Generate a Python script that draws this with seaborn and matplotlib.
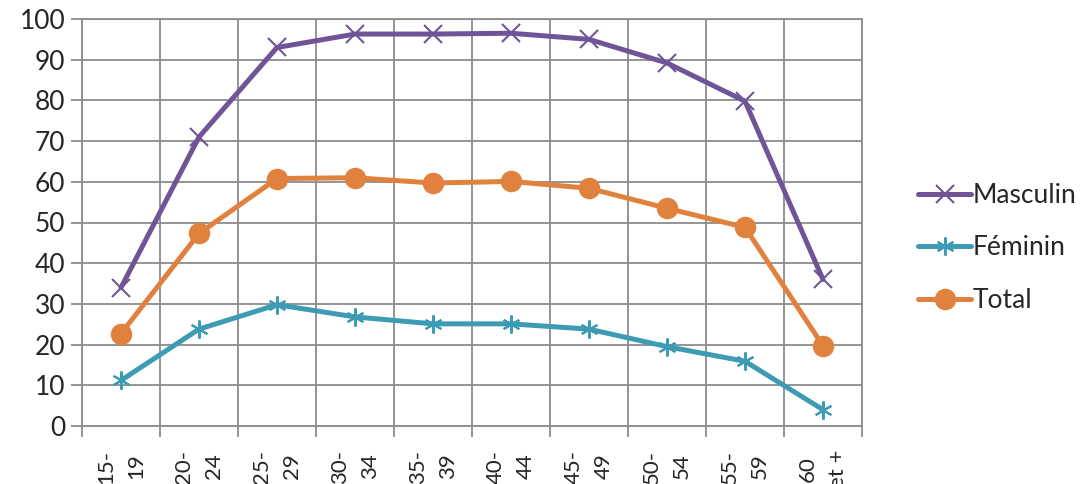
import numpy as np
import pandas as pd
import matplotlib
matplotlib.use("Agg")
import matplotlib.pyplot as plt
import seaborn as sns
from matplotlib.lines import Line2D

categories = ["15-\n19", "20-\n24", "25-\n29", "30-\n34", "35-\n39",
              "40-\n44", "45-\n49", "50-\n54", "55-\n59", "60\net +"]
masculin = [34.0, 71.0, 93.0, 96.3, 96.3, 96.5, 95.0, 89.2, 79.8, 36.0]
feminin = [11.2, 23.8, 29.8, 26.8, 25.1, 25.1, 23.8, 19.5, 15.9, 4.0]
total = [22.7, 47.3, 60.8, 61.0, 59.7, 60.1, 58.4, 53.5, 48.8, 19.7]
series_names = ["Masculin", "Féminin", "Total"]

sns.set_theme(style="white")
plt.rcParams['font.family'] = ['Lato', 'DejaVu Sans']

colors = {"Masculin": "#6F5597", "Féminin": "#3E9BB4", "Total": "#E0823D"}
markers = {"Masculin": "x", "Féminin": (6, 2, 0), "Total": "o"}
msizes = {"Masculin": 13, "Féminin": 13, "Total": 14}
lw = 3.6

fig = plt.figure(figsize=(10.82, 4.84), dpi=100)
ax = fig.add_axes([82/1082, 1-426/484, (862-82)/1082, (426-19)/484])

pos = np.arange(len(categories))
for name, vals in zip(series_names, [masculin, feminin, total]):
    df = pd.DataFrame({"x": pos, "y": vals})
    sns.lineplot(data=df, x="x", y="y", ax=ax, color=colors[name], linewidth=lw,
                 marker=markers[name], markersize=msizes[name],
                 markeredgewidth=1.5, markeredgecolor=colors[name],
                 markerfacecolor=colors[name], label=name, legend=False,
                 solid_capstyle="round")

grid_c = "#8C8C8C"
ax.set_xlim(-0.5, len(categories) - 0.5)
ax.set_ylim(0, 100)
ax.set_yticks(np.arange(0, 101, 10))
ax.set_xticks(pos)
ax.set_xticklabels(categories, rotation=90, ha="center", va="top",
                   linespacing=1.6)
ax.set_xticks(np.arange(-0.5, len(categories), 1.0), minor=True)
ax.set_xlabel("")
ax.set_ylabel("")

ax.grid(True, axis="y", which="major", color=grid_c, linewidth=1.3)
ax.grid(True, axis="x", which="minor", color=grid_c, linewidth=1.3)
ax.grid(False, axis="x", which="major")
for s in ax.spines.values():
    s.set_color(grid_c)
    s.set_linewidth(1.3)
ax.tick_params(axis="y", which="major", direction="out", length=8, width=1.3,
               color=grid_c, labelsize=19, pad=4, left=True)
ax.tick_params(axis="x", which="major", length=0, labelsize=16, pad=17)
ax.tick_params(axis="x", which="minor", direction="out", length=8, width=1.3,
               color=grid_c, bottom=True)
ax.set_axisbelow(True)

handles = [Line2D([0], [0], color=colors[n], linewidth=lw, marker=markers[n],
                  markersize=msizes[n], markeredgewidth=1.5,
                  markerfacecolor=colors[n], markeredgecolor=colors[n],
                  solid_capstyle="round")
           for n in series_names]
fig.legend(handles, series_names, loc="center left",
           bbox_to_anchor=(905/1082, 1-248/484), frameon=False,
           fontsize=19, handlelength=2.0, handletextpad=0.05,
           labelspacing=1.05, borderpad=0)

fig.savefig("out.png", dpi=100)
